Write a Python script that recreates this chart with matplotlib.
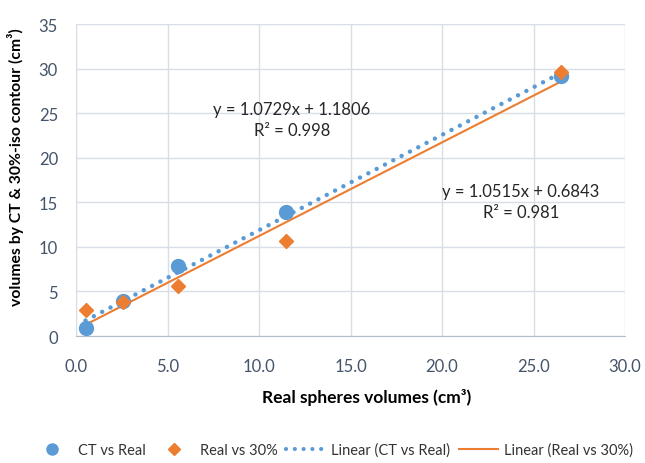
import numpy as np
import matplotlib
matplotlib.use("Agg")
import matplotlib.pyplot as plt
from matplotlib.lines import Line2D

plt.rcParams["font.family"] = ["Lato", "DejaVu Sans"]

real_volumes = [0.52, 2.57, 5.58, 11.49, 26.52]
ct_volumes = [0.9, 3.9, 7.9, 13.9, 29.2]
iso30_volumes = [2.9, 3.8, 5.6, 10.7, 29.6]

eq_ct = "y = 1.0729x + 1.1806\nR² = 0.998"
eq_iso = "y = 1.0515x + 0.6843\nR² = 0.981"

blue = "#5b9bd5"
orange = "#ed7d31"
tick_color = "#44546a"
grid_color = "#d9dde6"

fig = plt.figure(figsize=(6.45, 4.64), dpi=100)
ax = fig.add_axes([76 / 645, 1 - 337 / 464, 549 / 645, 312 / 464])

x = np.array(real_volumes)
xs = np.array([x.min(), x.max()])

# linear trend lines fitted to each series
p_ct = np.polyfit(x, ct_volumes, 1)
p_iso = np.polyfit(x, iso30_volumes, 1)

ax.plot(xs, np.polyval(p_iso, xs), color=orange, lw=1.5, zorder=2)
ax.plot(xs, np.polyval(p_ct, xs), color=blue, lw=3.2,
        linestyle=(0, (0.01, 2.1)), dash_capstyle="round", zorder=3)
ax.plot(x, ct_volumes, "o", color=blue, ms=10, zorder=4)
ax.plot(x, iso30_volumes, "D", color=orange, ms=7, zorder=5)

ax.text(11.8, 24.3, eq_ct, ha="center", va="center", fontsize=12,
        color="#262626", linespacing=1.35)
ax.text(24.3, 15.1, eq_iso, ha="center", va="center", fontsize=12,
        color="#262626", linespacing=1.35)

ax.set_xlim(0, 30)
ax.set_ylim(0, 35)
ax.set_xticks(np.arange(0, 31, 5))
ax.set_xticklabels([f"{v:.1f}" for v in np.arange(0, 31, 5)])
ax.set_yticks(np.arange(0, 36, 5))
ax.grid(True, color=grid_color, lw=1)
ax.set_axisbelow(True)
ax.tick_params(length=0, labelsize=12, colors=tick_color)
ax.tick_params(axis="x", pad=16)
ax.tick_params(axis="y", pad=13)
for side in ["top", "right"]:
    ax.spines[side].set_visible(False)
ax.spines["left"].set_color(grid_color)
ax.spines["bottom"].set_color("#b4bccb")

ax.set_xlabel("Real spheres volumes (cm³)", fontsize=12.5, fontweight="bold")
ax.xaxis.set_label_coords(0.53, -(389 - 337) / 312)
ax.set_ylabel("volumes by CT & 30%-iso contour (cm³)", fontsize=11.3,
              fontweight="bold")
ax.yaxis.set_label_coords(-(76 - 24) / 549, 0.545)

handles = [
    Line2D([], [], marker="o", ls="none", color=blue, ms=8),
    Line2D([], [], marker="D", ls="none", color=orange, ms=6),
    Line2D([], [], color=blue, lw=3, linestyle=(0, (0.01, 2.1)),
           dash_capstyle="round"),
    Line2D([], [], color=orange, lw=1.5),
]
labels = ["CT vs Real", "Real vs 30%", "Linear (CT vs Real)", "Linear (Real vs 30%)"]
fig.legend(handles, labels, loc="center", bbox_to_anchor=(333 / 645, 1 - 451 / 464),
           ncol=4, frameon=False, fontsize=10.5, handlelength=2.7,
           columnspacing=0.6, handletextpad=0.4, labelcolor="#333333")

fig.savefig("out.png", dpi=100)
